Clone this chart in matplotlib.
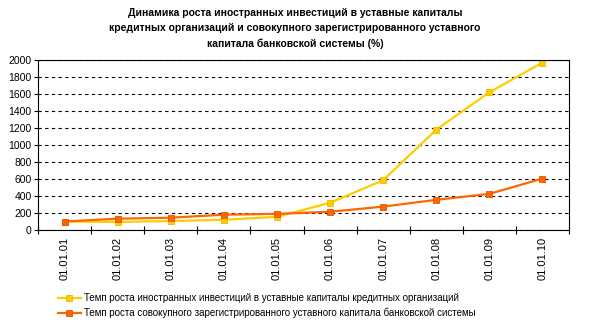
import matplotlib
matplotlib.use("Agg")
import matplotlib.pyplot as plt
import numpy as np

plt.rcParams['font.family'] = ['Liberation Sans', 'DejaVu Sans']

categories = ["01.01.01", "01.01.02", "01.01.03", "01.01.04", "01.01.05",
              "01.01.06", "01.01.07", "01.01.08", "01.01.09", "01.01.10"]
foreign_investment = [100, 95, 105, 120, 155, 320, 585, 1180, 1620, 1970]
total_capital = [100, 133, 145, 180, 190, 215, 275, 355, 425, 605]

label_foreign = "Темп роста иностранных инвестиций в уставные капиталы кредитных организаций"
label_total = "Темп роста совокупного зарегистрированного уставного капитала банковской системы"
title = ("Динамика роста иностранных инвестиций в уставные капиталы\n"
         "кредитных организаций и совокупного зарегистрированного уставного\n"
         "капитала банковской системы (%)")

fig = plt.figure(figsize=(5.89, 3.24), dpi=100)
ax = fig.add_axes([38 / 589, 1 - 230 / 324, 531 / 589, 170 / 324])

x = np.arange(len(categories))
l1, = ax.plot(x, foreign_investment, color="#FFCC00", lw=1.6, marker="s",
              ms=4.5, mfc="#FFCC00", mec="#F0B800", mew=0.6)
l2, = ax.plot(x, total_capital, color="#FF6600", lw=1.6, marker="s",
              ms=4.5, mfc="#FF6600", mec="#E05500", mew=0.6)

ax.set_xlim(-0.5, len(categories) - 0.5)
ax.set_ylim(0, 2000)
ax.set_yticks(np.arange(0, 2001, 200))
ax.yaxis.grid(True, linestyle=(0, (3, 3)), color="black", lw=0.8)
ax.set_axisbelow(True)

ax.set_xticks(x)
ax.set_xticklabels(categories, rotation=90, fontsize=8)
ax.set_xticks(np.arange(-0.5, len(categories), 1), minor=True)
ax.tick_params(axis="x", which="major", length=0, pad=5)
ax.tick_params(axis="x", which="minor", length=6, direction="inout", width=0.8)
ax.tick_params(axis="y", length=3, direction="out", labelsize=7.5, pad=1.5, width=0.8)

for s in ax.spines.values():
    s.set_linewidth(0.8)
    s.set_color("black")

fig.text(295 / 589, 1 - 8 / 324, title, ha="center", va="top", fontsize=7.5,
         fontweight="bold", linespacing=1.62)

fig.legend([l1, l2], [label_foreign, label_total], loc="lower left",
           bbox_to_anchor=(50 / 589, -2 / 324), frameon=False, fontsize=7,
           handlelength=2.4, handletextpad=0.3, labelspacing=0.45,
           borderpad=0.3)

fig.savefig("out.png", dpi=100)
